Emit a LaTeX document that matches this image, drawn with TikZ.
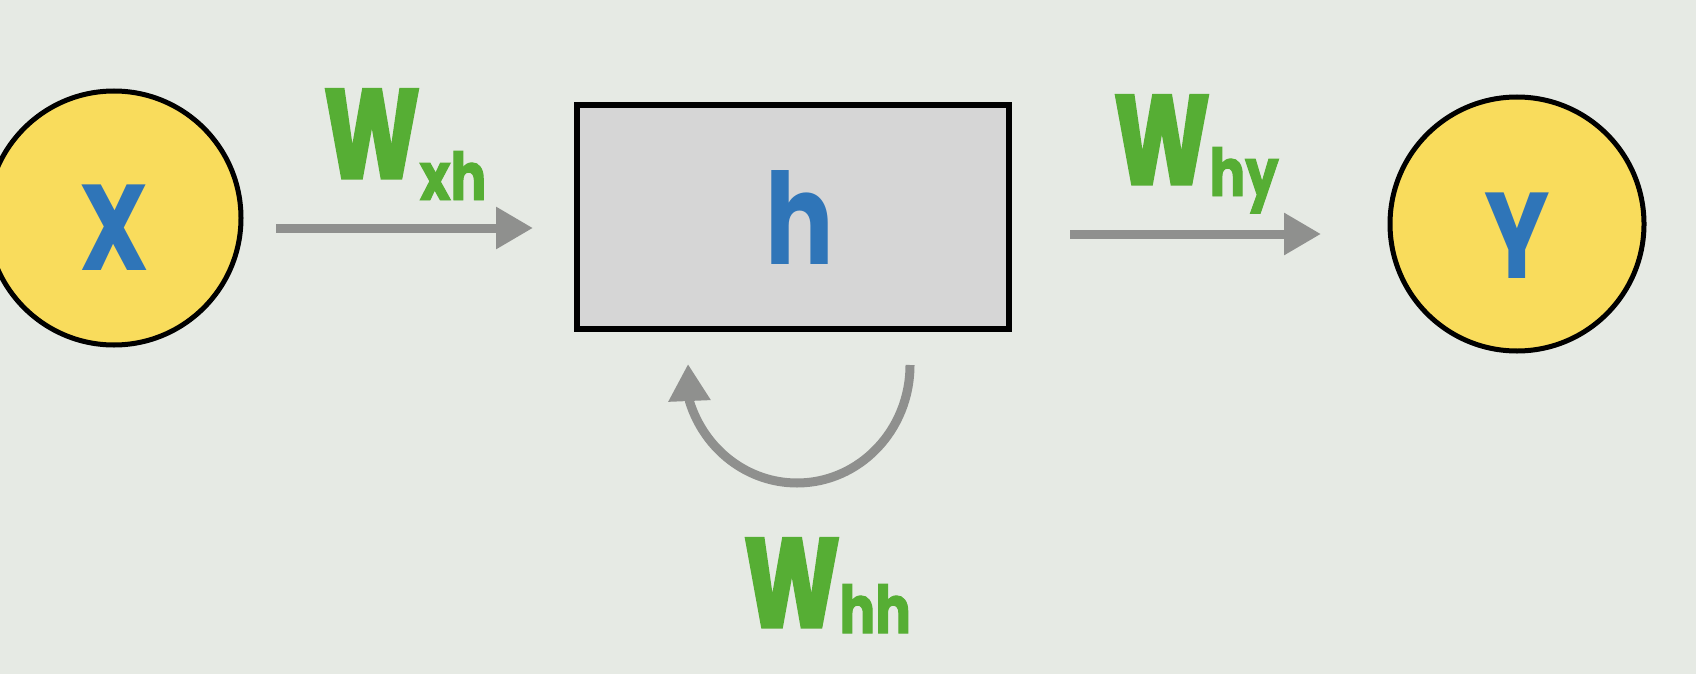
\documentclass[tikz,border=0pt]{standalone}
\usepackage{fontspec}
\newfontfamily\lblfont{Poppins}[FakeStretch=0.8]
\newfontfamily\wfont{Poppins}[FakeStretch=0.72, FakeBold=2.5]
\newfontfamily\subfont{Poppins}[FakeStretch=0.8, FakeBold=1.5]
\usetikzlibrary{arrows.meta}
\definecolor{bgc}{HTML}{E6EAE4}
\definecolor{yel}{HTML}{F9DC5C}
\definecolor{blu}{HTML}{2F75B8}
\definecolor{grn}{HTML}{56AE34}
\definecolor{arr}{HTML}{8F908E}
\definecolor{boxc}{HTML}{D6D6D6}
\newcommand\wlabel[2]{{\wfont\bfseries\fontsize{126}{126}\selectfont W}\raisebox{-#2pt}{\subfont\bfseries\fontsize{66}{66}\selectfont #1}}
\begin{document}
\begin{tikzpicture}[x=1pt,y=-1pt,
  unit/.style={circle, draw=black, line width=5pt, fill=yel, minimum size=254pt, inner sep=0pt},
  letter/.style={text=blu, font=\lblfont\bfseries\fontsize{122}{122}\selectfont, inner sep=0pt},
  wlab/.style={text=grn, inner sep=0pt, anchor=base west},
  conn/.style={draw=arr, line width=9pt, -{Triangle[length=37pt,width=40pt]}},
  ]
\fill[bgc] (0,0) rectangle (1696,674);
\useasboundingbox (0,0) rectangle (1696,674);

\node[unit] (X) at (114,218) {};
\node[letter] (Xt) at (114,228) {X};
\node[draw=black, line width=6pt, fill=boxc, minimum width=432pt, minimum height=224pt, inner sep=0pt] (h) at (793,217) {};
\node[letter, font=\lblfont\bfseries\fontsize{127}{127}\selectfont] (ht) at (800,218) {h};
\node[unit] (Y) at (1517,224) {};
\node[letter] (Yt) at (1517,236) {Y};

\coordinate (a1s) at (276,228);
\coordinate (a1e) at (533,228);
\coordinate (a2s) at (1070,234);
\coordinate (a2e) at (1321,234);
\coordinate (ls) at (910,365);
\coordinate (lt) at (688,364);

\draw[conn] (a1s) -- (a1e);
\draw[conn] (a2s) -- (a2e);
\draw[conn] (ls) arc[start angle=0, end angle=162, x radius=113, y radius=118] -- (lt);

\node[wlab] (lxh) at (324,178) {\wlabel{xh}{22}};
\node[wlab] (lhy) at (1114,184) {\wlabel{hy}{12}};
\node[wlab] (lhh) at (744,627) {\wlabel{hh}{6}};
\end{tikzpicture}
\end{document}
